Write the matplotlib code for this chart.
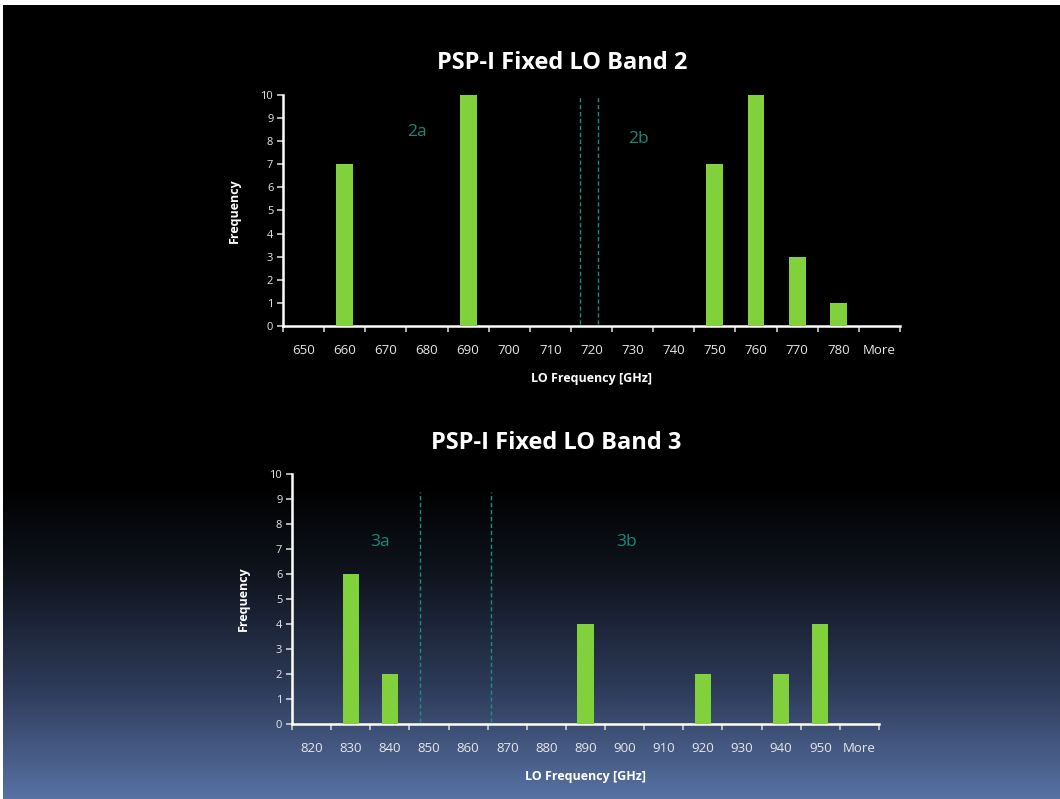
import numpy as np
import matplotlib
matplotlib.use("Agg")
import matplotlib.pyplot as plt

plt.rcParams['font.family'] = ['Open Sans', 'DejaVu Sans']

# Band 2 histogram
band2_bins = ['650', '660', '670', '680', '690', '700', '710', '720', '730',
              '740', '750', '760', '770', '780', 'More']
band2_counts = [0, 7, 0, 0, 10, 0, 0, 0, 0, 0, 7, 10, 3, 1, 0]
band2_split = [6.72, 7.15]          # dashed separators (category units)
band2_labels = [('2a', 2.75, 8.4), ('2b', 8.15, 8.1)]

# Band 3 histogram
band3_bins = ['820', '830', '840', '850', '860', '870', '880', '890', '900',
              '910', '920', '930', '940', '950', 'More']
band3_counts = [0, 6, 2, 0, 0, 0, 0, 4, 0, 0, 2, 0, 2, 4, 0]
band3_split = [2.78, 4.59]
band3_labels = [('3a', 1.75, 7.3), ('3b', 8.05, 7.3)]

bar_color = '#80d13c'
dash_color = '#1a9080'
label_color = '#1a8a78'

fig = plt.figure(figsize=(10.6, 7.99), dpi=100, facecolor='white')

# slide background: black fading to blue toward the bottom
bg = fig.add_axes([3 / 1060, -0.01, 1.0, 1.01 - 5 / 799], zorder=-10)
ys = np.linspace(0, 1, 400)           # 0 = top, 1 = bottom
stops_y = [0.0, 0.60, 0.71, 0.85, 1.0]
stops_c = np.array([[0, 0, 0], [0, 0, 0], [15, 20, 30], [45, 58, 88], [90, 117, 168]]) / 255
grad = np.stack([np.interp(ys, stops_y, stops_c[:, k]) for k in range(3)], axis=-1)
bg.imshow(grad[:, None, :], aspect='auto', extent=[0, 1, 0, 1])
bg.set_axis_off()


def draw_hist(rect, bins, counts, split, labels, title, title_x, title_y, dash_top):
    ax = fig.add_axes(rect)
    ax.set_facecolor('none')
    x = np.arange(len(bins))
    ax.bar(x, counts, width=0.41, color=bar_color, zorder=3)
    ax.set_xlim(-0.5, len(bins) - 0.5)
    ax.set_ylim(0, 10)
    ax.set_yticks(range(0, 11))
    ax.set_xticks(x)
    ax.set_xticklabels(bins)
    ax.set_xticks(np.arange(-0.5, len(bins)), minor=True)
    ax.tick_params(axis='x', which='major', length=0, pad=13, labelsize=9.5, labelcolor='#e8e8e8')
    ax.tick_params(axis='x', which='minor', length=4, width=1.2, color='#d0d0d0', direction='out')
    ax.tick_params(axis='y', length=4, width=1.2, color='#d0d0d0', labelsize=8, labelcolor='#e8e8e8', pad=3)
    for s in ['top', 'right']:
        ax.spines[s].set_visible(False)
    for s in ['left', 'bottom']:
        ax.spines[s].set_color('white')
        ax.spines[s].set_linewidth(1.8)
    ax.set_xlabel('LO Frequency [GHz]', color='white', fontsize=9, fontweight='bold', labelpad=11)
    ax.set_ylabel('Frequency', color='white', fontsize=9, fontweight='bold', labelpad=14)
    for xv in split:
        ax.plot([xv, xv], [0.1, dash_top], color=dash_color, lw=1, ls=(0, (3, 2)), zorder=2)
    for txt, xv, yv in labels:
        ax.text(xv, yv, txt, color=label_color, fontsize=12.5, ha='center', va='center')
    fig.text(title_x, title_y, title, color='white', fontsize=17, fontweight='bold', ha='center', va='center')
    return ax


draw_hist([283 / 1060, 1 - 326 / 799, 617 / 1060, 231 / 799],
          band2_bins, band2_counts, band2_split, band2_labels,
          'PSP-I Fixed LO Band 2', 562 / 1060, 1 - 63 / 799, 10)
draw_hist([292 / 1060, 1 - 724 / 799, 587 / 1060, 250 / 799],
          band3_bins, band3_counts, band3_split, band3_labels,
          'PSP-I Fixed LO Band 3', 556 / 1060, 1 - 443 / 799, 9.3)

fig.savefig('out.png', dpi=100, facecolor=fig.get_facecolor())
